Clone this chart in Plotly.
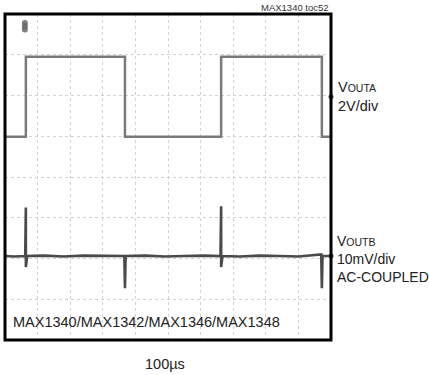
import plotly.graph_objects as go

# Time axis in screen divisions (100us/div), vertical in screen divisions
t_a = [0.0, 0.64, 0.64, 3.68, 3.68, 6.63, 6.63, 9.72, 9.72, 10.0]
v_a = [0.99, 0.99, 2.95, 2.95, 0.99, 0.99, 2.95, 2.95, 0.99, 0.99]

t_b = [0.0, 0.3, 0.62, 0.64, 0.64, 0.66, 0.68, 1.2, 1.8, 2.4, 3.0, 3.66, 3.68, 3.70,
       4.3, 4.9, 5.5, 6.1, 6.61, 6.63, 6.63, 6.65, 6.67, 7.2, 7.8, 8.4, 9.0, 9.70,
       9.72, 9.74, 10.0]
v_b = [-1.94, -1.95, -1.94, -0.75, -2.21, -2.05, -1.94, -1.93, -1.95, -1.93, -1.94,
       -1.94, -2.73, -1.94, -1.93, -1.95, -1.94, -1.93, -1.94, -0.72, -2.21, -2.05,
       -1.94, -1.95, -1.93, -1.94, -1.95, -1.90, -2.73, -1.94, -1.94]

trig_x = [0.61, 0.61, 0.61]
trig_y = [3.78, 3.70, 3.62]
gnd_x = [10.0, 10.0]
gnd_y = [1.97, -1.94]

fig = go.Figure()
fig.add_trace(go.Scatter(x=t_a, y=v_a, mode="lines",
                         line=dict(color="#7a7a7a", width=2.5), hoverinfo="skip"))
fig.add_trace(go.Scatter(x=t_b, y=v_b, mode="lines",
                         line=dict(color="#4a4a4a", width=2.6), hoverinfo="skip"))
fig.add_trace(go.Scatter(x=trig_x, y=trig_y, mode="markers", cliponaxis=False,
                         marker=dict(symbol="circle", size=6, color="#666",
                                     opacity=0.85),
                         hoverinfo="skip"))
fig.add_trace(go.Scatter(x=gnd_x, y=gnd_y, mode="markers", cliponaxis=False,
                         marker=dict(color="#444", size=5, symbol="circle"),
                         hoverinfo="skip"))

fnt = "Liberation Sans, Arial, sans-serif"
sub = "<span style='font-size:10.5px'>%s</span>"
fig.update_layout(
    width=429, height=375,
    margin=dict(l=5, r=98, t=14, b=35),
    paper_bgcolor="white", plot_bgcolor="white",
    showlegend=False,
    xaxis=dict(range=[0, 10], dtick=1, showgrid=True, gridcolor="#d2d2d2",
               griddash="dot", gridwidth=1, showticklabels=False, zeroline=False,
               ticks="", fixedrange=True),
    yaxis=dict(range=[-4, 4], dtick=1, showgrid=True, gridcolor="#d2d2d2",
               griddash="dot", gridwidth=1, showticklabels=False, zeroline=False,
               ticks="", fixedrange=True),
    font=dict(family=fnt, color="#222"),
    shapes=[dict(type="rect", xref="paper", yref="paper", x0=0, y0=0, x1=1, y1=1,
                 line=dict(color="black", width=3))],
    annotations=[
        dict(text="MAX1340 toc52", xref="paper", yref="paper", x=1.0, y=1.0,
             xanchor="right", yanchor="bottom", yshift=-1, showarrow=False,
             font=dict(size=9.5, family=fnt, color="#333")),
        dict(text="V" + sub % "OUTA" + "<br>2V/div", xref="paper", yref="y", x=1.0,
             y=1.97, xanchor="left", yanchor="middle", xshift=5, align="left",
             showarrow=False, font=dict(size=14.5, family=fnt)),
        dict(text="V" + sub % "OUTB" + "<br>10mV/div<br>AC-COUPLED", xref="paper",
             yref="y", x=1.0, y=-2.02, xanchor="left", yanchor="middle", xshift=4,
             align="left", showarrow=False, font=dict(size=14, family=fnt)),
        dict(text="MAX1340/MAX1342/MAX1346/MAX1348", xref="paper", yref="y",
             x=0, y=-3.57, xanchor="left", yanchor="middle", xshift=6,
             showarrow=False, font=dict(size=14.5, family=fnt)),
        dict(text="100µs", xref="paper", yref="paper", x=0.49, y=0,
             xanchor="center", yanchor="top", yshift=-14, showarrow=False,
             font=dict(size=14.5, family=fnt)),
    ],
)
fig.write_html("out.html", config={"displayModeBar": False},
               post_script="document.body.style.margin='0';")
